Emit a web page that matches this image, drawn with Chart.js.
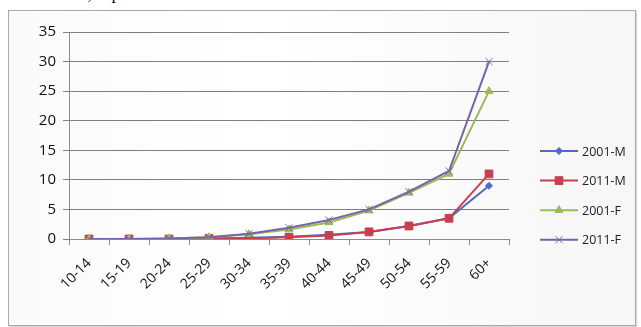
<!DOCTYPE html>
<html>
<head>
<meta charset="utf-8">
<script src="https://cdn.jsdelivr.net/npm/chart.js@4/dist/chart.umd.min.js"></script>
<style>
  html, body { margin: 0; padding: 0; background: #fff; overflow: hidden; }
  #wrap { position: relative; width: 641px; height: 327px; }
  #caption {
    position: absolute; left: 22px; top: -17px;
    font: 18px "Liberation Serif", "DejaVu Serif", serif; color: #111;
  }
  #box {
    position: absolute; left: 8px; top: 10px; width: 626px; height: 314px;
    border: 1px solid #a9a9a9;
    background: linear-gradient(90deg, #fafafa 0%, #ffffff 40%, #f6f6f6 100%);
    box-shadow: 1px 1px 1px #d8d8d8;
  }
  #chart { position: absolute; left: 0; top: 0; }
</style>
</head>
<body>
<div id="wrap">
  <div id="caption">ver cases, %pa</div>
  <div id="box"></div>
  <canvas id="chart" width="641" height="327"></canvas>
</div>
<script>
const ageGroups = ["10-14", "15-19", "20-24", "25-29", "30-34", "35-39", "40-44", "45-49", "50-54", "55-59", "60+"];
const male2001 = [0, 0, 0, 0.1, 0.2, 0.4, 0.7, 1.2, 2.2, 3.5, 9];
const male2011 = [0, 0, 0, 0.1, 0.1, 0.3, 0.6, 1.2, 2.2, 3.5, 11];
const female2001 = [0, 0, 0.1, 0.3, 0.8, 1.6, 2.8, 4.8, 7.8, 11, 25];
const female2011 = [0, 0, 0.1, 0.3, 0.9, 1.9, 3.2, 5, 8, 11.5, 30];
const yTicks = [0, 5, 10, 15, 20, 25, 30, 35];

const seriesFor = function (label, values, color, marker, radius, order) {
  return {
    label: label,
    data: values,
    borderColor: color,
    backgroundColor: color,
    pointBorderColor: color,
    pointBackgroundColor: color,
    pointStyle: marker,
    pointRadius: radius,
    pointBorderWidth: 1,
    borderWidth: 2,
    tension: 0,
    order: order,
  };
};

const datasets = [
  seriesFor("2001-M", male2001, "#4f6cc0", "rectRot", 3.5, 3),
  seriesFor("2011-M", male2011, "#c8404f", "rect", 5.5, 2),
  seriesFor("2001-F", female2001, "#9bbb59", "triangle", 4.5, 1),
  seriesFor("2011-F", female2011, "#7565a8", "crossRot", 5, 0),
];

// Excel-style legend: a short line with the marker in the middle
const sideLegend = {
  id: "sideLegend",
  afterDraw(chart) {
    const ctx = chart.ctx;
    ctx.save();
    datasets.forEach((ds, i) => {
      const y = 151 + i * 29.6;
      ctx.strokeStyle = ds.borderColor;
      ctx.fillStyle = ds.borderColor;
      ctx.lineWidth = 2;
      ctx.beginPath();
      ctx.moveTo(540, y);
      ctx.lineTo(578, y);
      ctx.stroke();
      ctx.lineWidth = 1;
      Chart.helpers.drawPoint(ctx, { pointStyle: ds.pointStyle, radius: ds.pointRadius, borderWidth: 1 }, 559, y);
      ctx.fillStyle = "#222";
      ctx.font = '12.5px "Open Sans", sans-serif';
      ctx.textBaseline = "middle";
      ctx.fillText(ds.label, 582, y + 1);
    });
    ctx.restore();
  },
};

new Chart(document.getElementById("chart"), {
  type: "line",
  data: { labels: ageGroups, datasets: datasets },
  options: {
    responsive: false,
    animation: false,
    layout: { padding: { top: 32, right: 132, left: 0, bottom: 0 } },
    plugins: {
      legend: { display: false },
      tooltip: { enabled: false },
    },
    scales: {
      x: {
        offset: true,
        grid: {
          offset: true,
          drawOnChartArea: false,
          tickLength: 6,
          color: "#8c8c8c",
        },
        border: { color: "#8c8c8c" },
        ticks: {
          minRotation: 45,
          maxRotation: 45,
          padding: 10,
          color: "#111",
          font: { family: "Open Sans", size: 14 },
        },
        afterFit: (scale) => { scale.height = 88; },
      },
      y: {
        min: 0,
        max: 35,
        afterBuildTicks: (scale) => { scale.ticks = yTicks.map((v) => ({ value: v })); },
        grid: { color: "#7f7f7f", tickLength: 6 },
        border: { color: "#8c8c8c" },
        ticks: {
          padding: 7,
          color: "#111",
          font: { family: "Open Sans", size: 15 },
        },
        afterFit: (scale) => { scale.width = 69; },
      },
    },
  },
  plugins: [sideLegend],
});
</script>
</body>
</html>
